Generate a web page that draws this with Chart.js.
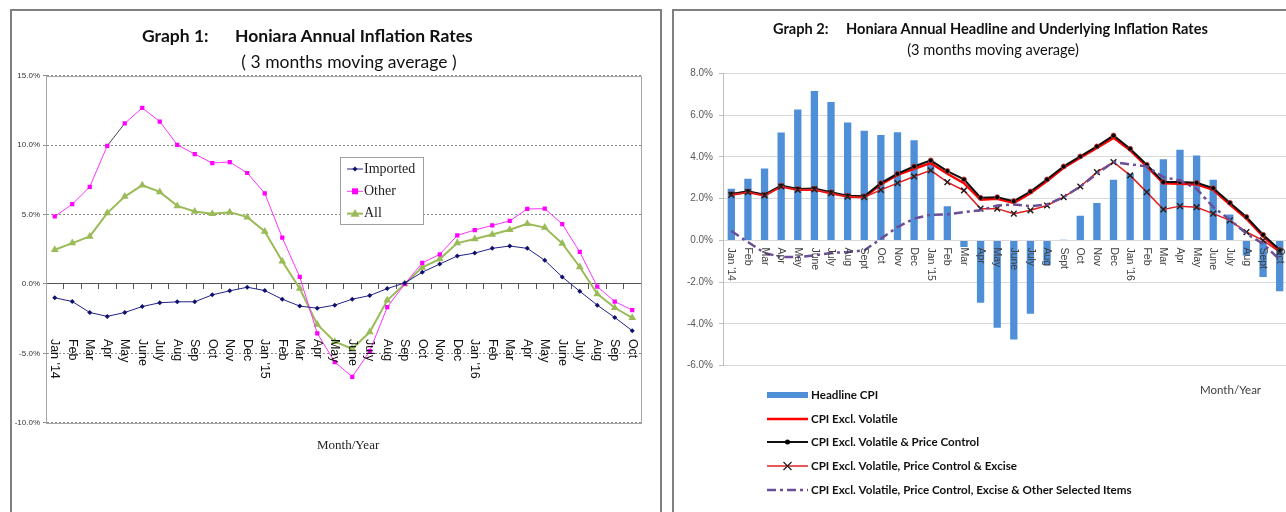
<!DOCTYPE html>
<html>
<head>
<meta charset="utf-8">
<script src="https://cdn.jsdelivr.net/npm/chart.js@4/dist/chart.umd.min.js"></script>
<style>
  html, body { margin: 0; padding: 0; background: #fff; }
  body { width: 1286px; height: 512px; overflow: hidden; position: relative; }
  .panel { position: absolute; border: 2px solid #808080; border-bottom: none; box-sizing: border-box; }
  canvas { position: absolute; }
  .txt { position: absolute; white-space: nowrap; line-height: 20px; color: #111; }
</style>
</head>
<body>
<div class="panel" style="left:10px; top:9px; width:652px; height:520px;"></div>
<div class="panel" style="left:672px; top:9px; width:700px; height:520px;"></div>

<canvas id="graph1" width="648" height="501" style="left:12px; top:11px;"></canvas>
<canvas id="graph2" width="622" height="501" style="left:674px; top:11px;"></canvas>

<div class="txt" style="left:142px; top:25px; font:bold 17.5px Lato;">Graph 1:</div>
<div class="txt" style="left:235px; top:25px; font:bold 17.5px Lato;">Honiara Annual Inflation Rates</div>
<div class="txt" style="left:229px; top:51px; width:240px; text-align:center; font:17.5px Lato;">( 3 months moving average )</div>
<div class="txt" style="left:317px; top:437px; font:13px 'Liberation Serif'; color:#222;">Month/Year</div>

<div class="txt" style="left:773px; top:20px; font:bold 14.6px Lato;">Graph 2:</div>
<div class="txt" style="left:846px; top:20px; font:bold 14.6px Lato;">Honiara Annual Headline and Underlying Inflation Rates</div>
<div class="txt" style="left:893px; top:41px; width:200px; text-align:center; font:14.6px Lato;">(3 months moving average)</div>
<div class="txt" style="left:1200px; top:383px; font:11.5px Lato; color:#404040;">Month/Year</div>

<script>
// ---- Graph 1 data (annual %, 3 month moving average)
const months1 = ["Jan '14", 'Feb', 'Mar', 'Apr', 'May', 'June', 'July', 'Aug', 'Sep', 'Oct', 'Nov', 'Dec',
    "Jan '15", 'Feb', 'Mar', 'Apr', 'May', 'June', 'July', 'Aug', 'Sep', 'Oct', 'Nov', 'Dec',
    "Jan '16", 'Feb', 'Mar', 'Apr', 'May', 'June', 'July', 'Aug', 'Sep', 'Oct'];
const imported = [-1.00, -1.27, -2.06, -2.34, -2.06, -1.63, -1.36, -1.29, -1.29, -0.79, -0.50, -0.24,
    -0.48, -1.10, -1.60, -1.75, -1.53, -1.10, -0.84, -0.34, 0.07, 0.84, 1.43, 2.01,
    2.22, 2.56, 2.73, 2.56, 1.70, 0.50, -0.53, -1.53, -2.42, -3.37];
const other = [4.86, 5.74, 6.99, 9.95, 11.56, 12.68, 11.70, 10.02, 9.35, 8.71, 8.78, 7.99,
    6.53, 3.33, 0.50, -3.56, -5.63, -6.70, -4.84, -1.68, 0.00, 1.51, 2.13, 3.49,
    3.88, 4.21, 4.54, 5.40, 5.42, 4.31, 2.30, -0.19, -1.27, -1.89];
const allItems = [2.46, 2.94, 3.42, 5.10, 6.29, 7.11, 6.63, 5.62, 5.22, 5.05, 5.17, 4.81,
    3.78, 1.63, -0.33, -2.92, -4.16, -4.67, -3.47, -1.18, 0.00, 1.19, 1.79, 2.94,
    3.23, 3.56, 3.90, 4.33, 4.06, 2.91, 1.22, -0.72, -1.72, -2.44];

// ---- Graph 2 data
const months2 = ["Jan '14", 'Feb', 'Mar', 'Apr', 'May', 'June', 'July', 'Aug', 'Sept', 'Oct', 'Nov', 'Dec',
    "Jan '15", 'Feb', 'Mar', 'Apr', 'May', 'June', 'July', 'Aug', 'Sept', 'Oct', 'Nov', 'Dec',
    "Jan '16", 'Feb', 'Mar', 'Apr', 'May', 'June', 'July', 'Aug', 'Sept', 'Oct'];
const headline = [2.47, 2.95, 3.44, 5.17, 6.27, 7.15, 6.63, 5.65, 5.25, 5.04, 5.18, 4.80,
    3.75, 1.64, -0.32, -2.98, -4.18, -4.75, -3.51, -1.18, 0.03, 1.18, 1.79, 2.90,
    3.19, 3.50, 3.89, 4.34, 4.07, 2.90, 1.24, -0.72, -1.75, -2.44];
const exVolatile = [2.18, 2.31, 2.15, 2.58, 2.42, 2.44, 2.26, 2.10, 2.07, 2.68, 3.14, 3.43,
    3.70, 3.19, 2.74, 1.95, 1.99, 1.79, 2.26, 2.84, 3.48, 3.96, 4.43, 4.91,
    4.31, 3.54, 2.74, 2.71, 2.68, 2.42, 1.72, 1.04, 0.19, -0.51];
const exPriceControl = [2.22, 2.35, 2.19, 2.62, 2.46, 2.48, 2.30, 2.14, 2.11, 2.74, 3.19, 3.54,
    3.83, 3.32, 2.92, 2.04, 2.07, 1.88, 2.34, 2.92, 3.54, 4.02, 4.50, 5.02,
    4.39, 3.62, 2.79, 2.79, 2.76, 2.50, 1.80, 1.12, 0.27, -0.45];
const exExcise = [2.18, 2.31, 2.15, 2.58, 2.42, 2.44, 2.26, 2.10, 2.07, 2.42, 2.74, 3.06,
    3.35, 2.79, 2.39, 1.52, 1.52, 1.28, 1.44, 1.67, 2.07, 2.58, 3.27, 3.75,
    3.11, 2.31, 1.48, 1.64, 1.59, 1.28, 0.96, 0.40, 0.00, -0.56];
const exSelected = [0.45, -0.08, -0.60, -0.80, -0.80, -0.72, -0.60, -0.56, -0.48, 0.08, 0.64, 1.04,
    1.23, 1.24, 1.36, 1.44, 1.67, 1.72, 1.64, 1.72, 2.07, 2.58, 3.19, 3.75,
    3.64, 3.54, 3.03, 2.87, 2.47, 1.59, 0.99, 0.32, -0.16, -0.93];

const pct = v => v.toFixed(1) + '%';

// small marker painter for the hand drawn legends
function marker(ctx, style, x, y, r, fill, stroke) {
    ctx.save();
    ctx.fillStyle = fill;
    ctx.strokeStyle = stroke;
    ctx.lineWidth = 1.2;
    ctx.beginPath();
    if (style === 'rect') {
        ctx.rect(x - r, y - r, 2 * r, 2 * r);
        ctx.fill();
    } else if (style === 'rectRot') {
        ctx.moveTo(x, y - r); ctx.lineTo(x + r, y); ctx.lineTo(x, y + r); ctx.lineTo(x - r, y);
        ctx.closePath(); ctx.fill();
    } else if (style === 'triangle') {
        ctx.moveTo(x, y - r); ctx.lineTo(x + r, y + r * 0.7); ctx.lineTo(x - r, y + r * 0.7);
        ctx.closePath(); ctx.fill();
    } else if (style === 'circle') {
        ctx.arc(x, y, r, 0, Math.PI * 2); ctx.fill();
    } else if (style === 'crossRot') {
        ctx.moveTo(x - r, y - r); ctx.lineTo(x + r, y + r);
        ctx.moveTo(x + r, y - r); ctx.lineTo(x - r, y + r);
        ctx.stroke();
    }
    ctx.restore();
}

// category labels rotated clockwise, hung under the zero line
function monthLabels(labels, gap, font, color) {
    return {
        id: 'monthLabels',
        afterDatasetsDraw(chart) {
            const {ctx, scales: {x, y}} = chart;
            const top = y.getPixelForValue(0) + gap;
            ctx.save();
            ctx.font = font;
            ctx.fillStyle = color;
            ctx.textAlign = 'left';
            ctx.textBaseline = 'middle';
            labels.forEach((label, i) => {
                ctx.save();
                ctx.translate(x.getPixelForValue(i), top);
                ctx.rotate(Math.PI / 2);
                ctx.fillText(label, 0, 0);
                ctx.restore();
            });
            ctx.restore();
        },
    };
}

const plotFrame = {
    id: 'plotFrame',
    beforeDatasetsDraw(chart) {
        const {ctx, chartArea: a} = chart;
        ctx.save();
        ctx.strokeStyle = '#a6a6a6';
        ctx.lineWidth = 1;
        ctx.strokeRect(Math.round(a.left) + 0.5, Math.round(a.top) + 0.5,
            Math.round(a.right - a.left), Math.round(a.bottom - a.top));
        ctx.restore();
    },
};

const legend1 = {
    id: 'legend1',
    afterDraw(chart) {
        const ctx = chart.ctx;
        const bx = 328, by = 146, bw = 83, bh = 67;
        ctx.save();
        ctx.fillStyle = '#fff';
        ctx.fillRect(bx, by, bw, bh);
        ctx.strokeStyle = '#a0a0a0';
        ctx.lineWidth = 1;
        ctx.strokeRect(bx + 0.5, by + 0.5, bw, bh);
        ctx.font = '14px "Liberation Serif"';
        ctx.textBaseline = 'middle';
        chart.data.datasets.forEach((ds, i) => {
            const yy = by + 12 + i * 22.3;
            ctx.strokeStyle = ds.borderColor;
            ctx.lineWidth = ds.borderWidth;
            ctx.beginPath();
            ctx.moveTo(bx + 7, yy);
            ctx.lineTo(bx + 23, yy);
            ctx.stroke();
            marker(ctx, ds.pointStyle, bx + 15, yy, ds.pointRadius, ds.pointBackgroundColor, ds.borderColor);
            ctx.fillStyle = '#222';
            ctx.fillText(ds.label, bx + 24, yy);
        });
        ctx.restore();
    },
};

new Chart(document.getElementById('graph1'), {
    type: 'line',
    data: {
        labels: months1,
        datasets: [{
            label: 'Imported',
            data: imported,
            borderColor: '#22228a',
            borderWidth: 1,
            pointStyle: 'rectRot',
            pointRadius: 2.5,
            pointBackgroundColor: '#10106e',
            pointBorderWidth: 0,
        }, {
            label: 'Other',
            data: other,
            borderColor: '#ff33ff',
            borderWidth: 1,
            pointStyle: 'rect',
            pointRadius: 3,
            pointBackgroundColor: '#ff00ff',
            pointBorderWidth: 0,
            // the Apr-May stretch is drawn dark in the original
            segment: { borderColor: c => (c.p0DataIndex === 3 ? '#444' : undefined) },
        }, {
            label: 'All',
            data: allItems,
            borderColor: '#9bbb59',
            borderWidth: 2,
            pointStyle: 'triangle',
            pointRadius: 4.5,
            pointBackgroundColor: '#9bbb59',
            pointBorderWidth: 0,
        }],
    },
    options: {
        responsive: false,
        animation: false,
        devicePixelRatio: 1,
        layout: { padding: { left: 0, top: 64.7, right: 19, bottom: 89.3 } },
        plugins: { legend: { display: false }, tooltip: { enabled: false } },
        scales: {
            x: {
                position: { y: 0 },
                offset: true,
                ticks: { display: false },
                grid: { offset: true, drawOnChartArea: false, drawTicks: true, tickLength: 5, color: '#555' },
                border: { display: true, color: '#555', width: 1 },
            },
            y: {
                min: -10,
                max: 15,
                ticks: { stepSize: 5, callback: pct, color: '#333', padding: 3, font: { family: 'Liberation Sans', size: 8 } },
                grid: { color: '#8c8c8c', tickLength: 3, tickColor: '#8c8c8c' },
                border: { display: true, color: '#a6a6a6', dash: [2, 2] },
                afterFit: scale => { scale.width = 34; },
            },
        },
    },
    plugins: [plotFrame, monthLabels(months1, 55, '12.5px "Liberation Sans"', '#111'), legend1],
});

const legend2 = {
    id: 'legend2',
    afterDraw(chart) {
        const ctx = chart.ctx;
        const x0 = 93, x1 = 134, tx = 137;
        const rows = [384, 408, 431, 455, 479];
        ctx.save();
        ctx.font = 'bold 11.6px Lato';
        ctx.textBaseline = 'middle';
        chart.data.datasets.forEach((ds, i) => {
            const yy = rows[i];
            if (ds.type === 'bar') {
                ctx.fillStyle = ds.backgroundColor;
                ctx.fillRect(x0, yy - 3, x1 - x0, 6);
            } else {
                ctx.strokeStyle = ds.borderColor;
                ctx.lineWidth = ds.borderWidth;
                ctx.setLineDash(ds.borderDash || []);
                ctx.beginPath();
                ctx.moveTo(x0, yy);
                ctx.lineTo(x1, yy);
                ctx.stroke();
                ctx.setLineDash([]);
                if (ds.pointRadius) {
                    marker(ctx, ds.pointStyle, (x0 + x1) / 2, yy, ds.pointRadius,
                        ds.pointBackgroundColor, ds.pointBorderColor);
                }
            }
            ctx.fillStyle = '#111';
            ctx.fillText(ds.label, tx, yy);
        });
        ctx.restore();
    },
};

new Chart(document.getElementById('graph2'), {
    type: 'bar',
    data: {
        labels: months2,
        datasets: [{
            type: 'bar',
            label: 'Headline CPI',
            data: headline,
            backgroundColor: '#4e8fd8',
            barPercentage: 0.44,
            categoryPercentage: 1,
            order: 10,
        }, {
            type: 'line',
            label: 'CPI Excl. Volatile',
            data: exVolatile,
            borderColor: '#ff0000',
            borderWidth: 2.5,
            pointRadius: 0,
            order: 4,
        }, {
            type: 'line',
            label: 'CPI Excl. Volatile & Price Control',
            data: exPriceControl,
            borderColor: '#111',
            borderWidth: 2,
            pointStyle: 'circle',
            pointRadius: 2.5,
            pointBackgroundColor: '#000',
            pointBorderColor: '#d04040',
            pointBorderWidth: 0.8,
            order: 3,
        }, {
            type: 'line',
            label: 'CPI Excl. Volatile, Price Control & Excise',
            data: exExcise,
            borderColor: '#e02020',
            borderWidth: 1.5,
            pointStyle: 'crossRot',
            pointRadius: 4,
            pointBackgroundColor: '#222',
            pointBorderColor: '#222',
            pointBorderWidth: 1.5,
            order: 2,
        }, {
            type: 'line',
            label: 'CPI Excl. Volatile, Price Control, Excise & Other Selected Items',
            data: exSelected,
            borderColor: '#6b4f96',
            borderWidth: 2.5,
            borderDash: [9, 4, 3, 4],
            pointRadius: 0,
            order: 1,
        }],
    },
    options: {
        responsive: false,
        animation: false,
        devicePixelRatio: 1,
        layout: { padding: { left: 0, top: 62.3, right: 8, bottom: 146.3 } },
        plugins: { legend: { display: false }, tooltip: { enabled: false } },
        scales: {
            x: {
                position: { y: 0 },
                offset: true,
                ticks: { display: false },
                grid: { display: false },
                border: { display: false },
            },
            y: {
                min: -6,
                max: 8,
                ticks: { stepSize: 2, callback: pct, color: '#595959', padding: 6, font: { family: 'Liberation Sans', size: 10 } },
                grid: { color: '#d9d9d9', tickLength: 4, tickColor: '#bfbfbf' },
                border: { display: true, color: '#bfbfbf' },
                afterFit: scale => { scale.width = 49; },
            },
        },
    },
    plugins: [monthLabels(months2, 7, '10.5px "Liberation Sans"', '#404040'), legend2],
});
</script>
</body>
</html>
